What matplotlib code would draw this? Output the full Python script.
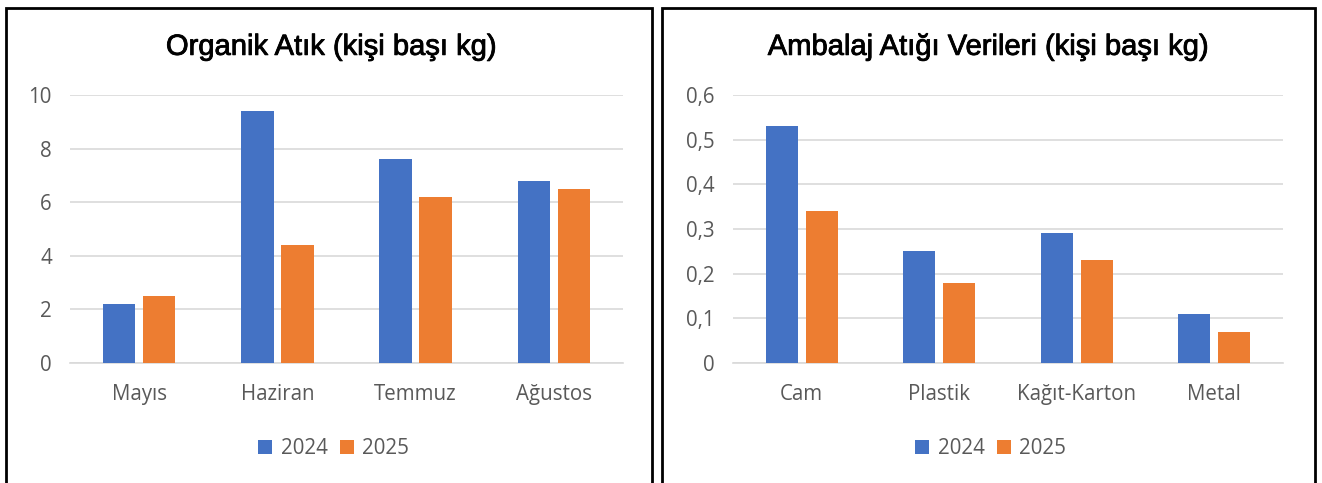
import matplotlib.pyplot as plt
import numpy as np
from matplotlib.patches import Rectangle
from matplotlib.ticker import FuncFormatter
import matplotlib.patheffects as pe

months = ["Mayıs", "Haziran", "Temmuz", "Ağustos"]
organic_2024 = [2.2, 9.4, 7.6, 6.8]
organic_2025 = [2.5, 4.4, 6.2, 6.5]

packaging = ["Cam", "Plastik", "Kağıt-Karton", "Metal"]
pack_2024 = [0.53, 0.25, 0.29, 0.11]
pack_2025 = [0.34, 0.18, 0.23, 0.07]

years = ["2024", "2025"]
BLUE, ORANGE = "#4472C4", "#ED7D31"
GRID, TXT = "#D9D9D9", "#595959"

plt.rcParams["font.family"] = ["Open Sans", "DejaVu Sans"]

fig = plt.figure(figsize=(13.22, 4.83), dpi=100)

# panel frames
for x0, x1 in [(6, 652), (662, 1315)]:
    fig.patches.append(Rectangle((x0 / 1322, -0.05), (x1 - x0) / 1322, 1.05 - 8 / 483,
                                 transform=fig.transFigure, fill=False,
                                 edgecolor="black", linewidth=2))


def panel(rect, cats, a, b, ymax, step, title, title_x, fmt):
    ax = fig.add_axes(rect)
    x = np.arange(len(cats))
    w = 0.235
    ax.bar(x - 0.145, a, w, color=BLUE, label=years[0], zorder=3)
    ax.bar(x + 0.145, b, w, color=ORANGE, label=years[1], zorder=3)
    ax.set_xlim(-0.5, len(cats) - 0.5)
    ax.set_ylim(0, ymax)
    ax.set_yticks(np.arange(0, ymax + step / 2, step))
    ax.yaxis.set_major_formatter(FuncFormatter(fmt))
    ax.grid(axis="y", color=GRID, linewidth=1.2, zorder=0)
    for s in ["top", "right", "left"]:
        ax.spines[s].set_visible(False)
    ax.spines["bottom"].set_color(GRID)
    ax.spines["bottom"].set_linewidth(1.2)
    ax.set_xticks(x)
    ax.set_xticklabels(cats)
    ax.tick_params(axis="both", length=0, labelsize=14.8, colors=TXT)
    ax.tick_params(axis="x", pad=15)
    ax.tick_params(axis="y", pad=13)
    fig.text(title_x, 0.903, title, ha="center", va="center", fontsize=21,
             family=["Liberation Sans", "DejaVu Sans"], color="black",
             path_effects=[pe.withStroke(linewidth=0.6, foreground="black")])
    h, l = ax.get_legend_handles_labels()
    fig.legend(h, l, loc="center", bbox_to_anchor=(title_x + 0.002, 0.071), ncol=2,
               frameon=False, fontsize=14.8, labelcolor=TXT, handlelength=0.7,
               handleheight=0.7, handletextpad=0.4, columnspacing=0.6)
    return ax


panel([70 / 1322, 1 - 363 / 483, 553 / 1322, 268 / 483], months,
      organic_2024, organic_2025, 10, 2, "Organik Atık (kişi başı kg)", 331 / 1322,
      lambda v, p: f"{v:.0f}")
panel([733 / 1322, 1 - 363 / 483, 550 / 1322, 268 / 483], packaging,
      pack_2024, pack_2025, 0.6, 0.1, "Ambalaj Atığı Verileri (kişi başı kg)", 988 / 1322,
      lambda v, p: "0" if abs(v) < 1e-9 else f"{v:.1f}".replace(".", ","))

fig.savefig("out.png", dpi=100)
